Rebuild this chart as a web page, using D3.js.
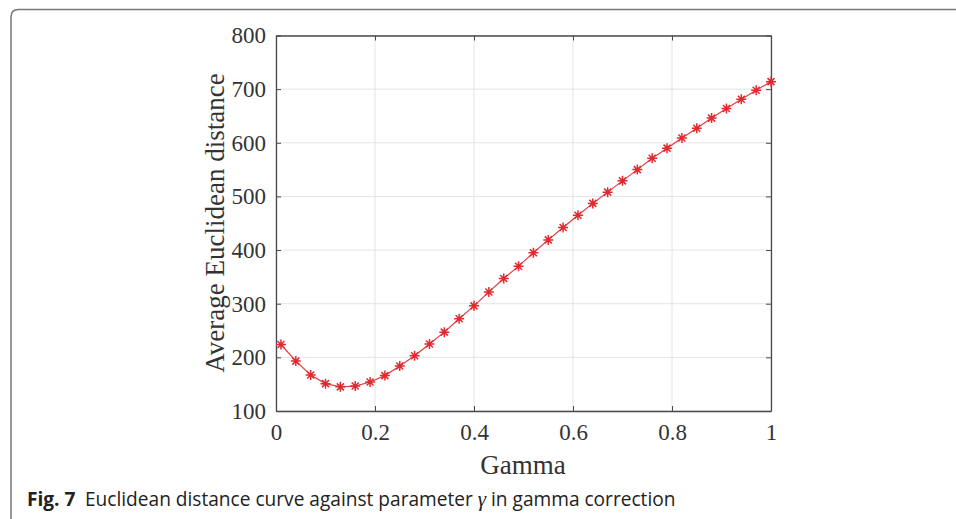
<!DOCTYPE html>
<html><head><meta charset="utf-8">
<script src="https://cdn.jsdelivr.net/npm/d3@7"></script>
<style>body{margin:0;background:#fff;}svg{display:block;}</style>
</head><body>
<script>
const gammaValues = [0.01,0.04,0.07,0.10,0.13,0.16,0.19,0.22,0.25,0.28,0.31,0.34,0.37,0.40,0.43,0.46,0.49,0.52,0.55,0.58,0.61,0.64,0.67,0.70,0.73,0.76,0.79,0.82,0.85,0.88,0.91,0.94,0.97,1.00];
const distanceValues = [224,193,167,151,145,146.5,154,166,184,203,225,247,272,296,322,347,370,395,419,442,465,487,508,529,550,571,590,609,627,646,664,681,698,714];
const xTicks = [0,0.2,0.4,0.6,0.8,1];
const xTickLabels = ["0","0.2","0.4","0.6","0.8","1"];
const yTicks = [100,200,300,400,500,600,700,800];
const xLabel = "Gamma";
const yLabel = "Average Euclidean distance";

const W = 956, H = 519;
const svg = d3.select("body").append("svg").attr("width", W).attr("height", H);

svg.append("path")
  .attr("d", "M11,519 L11,17 Q11,9.5 18.5,9.5 L956,9.5")
  .attr("fill","none").attr("stroke","#777").attr("stroke-width",1.5);

const L = 276, R = 771, T = 35.5, B = 411;
const x = d3.scaleLinear().domain([0,1]).range([L,R]);
const y = d3.scaleLinear().domain([100,800]).range([B,T]);

const g = svg.append("g");
g.selectAll(".gx").data(xTicks).join("line")
  .attr("x1", d=>x(d)).attr("x2", d=>x(d)).attr("y1", T).attr("y2", B)
  .attr("stroke","#e4e4e4").attr("stroke-width",1);
g.selectAll(".gy").data(yTicks).join("line")
  .attr("x1", L).attr("x2", R).attr("y1", d=>y(d)).attr("y2", d=>y(d))
  .attr("stroke","#e4e4e4").attr("stroke-width",1);

const font = "'Liberation Serif','Times New Roman',serif";
const axisCol = "#4a4a4a";

const axB = d3.axisBottom(x).tickValues(xTicks).tickFormat((d,i)=>xTickLabels[i]).tickSizeInner(-5).tickSizeOuter(0).tickPadding(13);
const axT = d3.axisTop(x).tickValues(xTicks).tickFormat("").tickSizeInner(-5).tickSizeOuter(0);
const axL = d3.axisLeft(y).tickValues(yTicks).tickSizeInner(-5).tickSizeOuter(0).tickPadding(10);
const axR = d3.axisRight(y).tickValues(yTicks).tickFormat("").tickSizeInner(-5).tickSizeOuter(0);

function style(sel){
  sel.selectAll(".domain").attr("stroke",axisCol).attr("stroke-width",1.3);
  sel.selectAll(".tick line").attr("stroke",axisCol).attr("stroke-width",1);
  sel.selectAll(".tick text").attr("fill","#333").style("font-family",font).style("font-size","23px");
}
svg.append("g").attr("transform",`translate(0,${B})`).call(axB).call(style);
svg.append("g").attr("transform",`translate(0,${T})`).call(axT).call(style);
svg.append("g").attr("transform",`translate(${L},0)`).call(axL).call(style);
svg.append("g").attr("transform",`translate(${R},0)`).call(axR).call(style);

svg.append("text").attr("x", 523).attr("y", 474).attr("text-anchor","middle")
  .style("font-family",font).style("font-size","27px").attr("fill","#333").text(xLabel);
svg.append("text").attr("transform","translate(224,223) rotate(-90)").attr("text-anchor","middle")
  .style("font-family",font).style("font-size","27px").attr("fill","#333").text(yLabel);

const data = gammaValues.map((g,i)=>({g, v: distanceValues[i]}));
svg.append("path").datum(data)
  .attr("d", d3.line().x(d=>x(d.g)).y(d=>y(d.v)))
  .attr("fill","none").attr("stroke","#e0403f").attr("stroke-width",1.2);

const r = 5;
const star = `M${-r},0L${r},0M0,${-r}L0,${r}M${-r*0.7},${-r*0.7}L${r*0.7},${r*0.7}M${-r*0.7},${r*0.7}L${r*0.7},${-r*0.7}`;
svg.selectAll(".m").data(data).join("path")
  .attr("transform", d=>`translate(${x(d.g)},${y(d.v)})`)
  .attr("d", star).attr("stroke","#e02a30").attr("stroke-width",1.5).attr("fill","none");

const cap = svg.append("text").attr("x", 0).attr("y", 0)
  .style("font-family","'Open Sans','Noto Sans',sans-serif").style("font-size","20px").attr("fill","#222");
cap.append("tspan").style("font-weight","bold").text("Fig. 7");
cap.append("tspan").text("\u2002Euclidean distance curve against parameter ");
cap.append("tspan").style("font-style","italic").style("font-family","'Liberation Serif',serif").style("font-size","22px").text("\u03B3");
cap.append("tspan").text(" in gamma correction");
const wdt = cap.node().getComputedTextLength();
const target = 676 - 27;
cap.attr("transform", `translate(27,506) scale(${target/wdt},1)`);
</script>
</body></html>
